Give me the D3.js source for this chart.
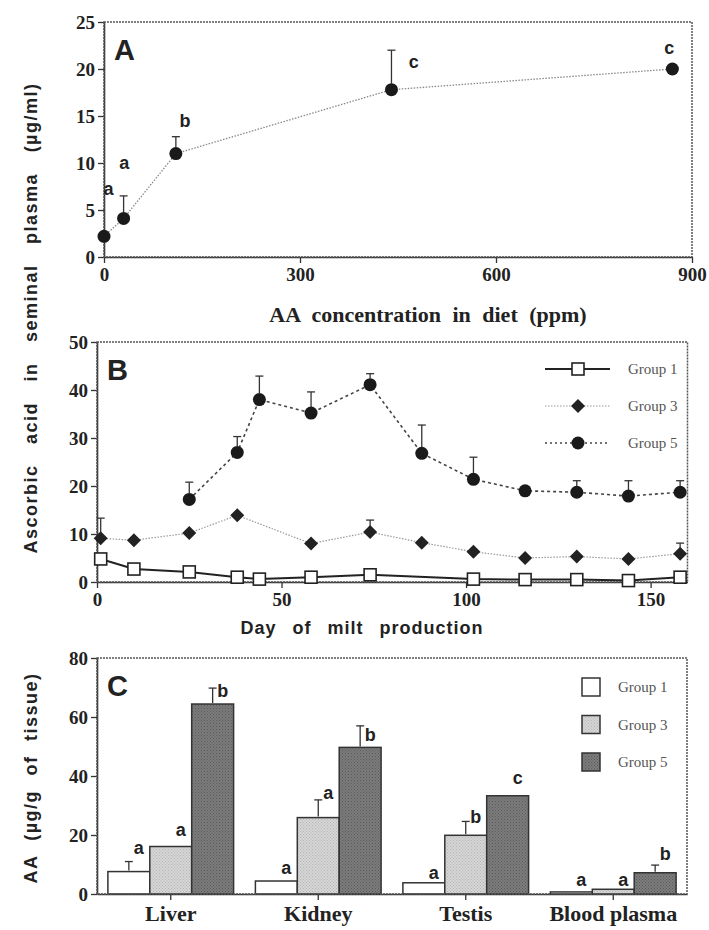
<!DOCTYPE html>
<html>
<head>
<meta charset="utf-8">
<script src="https://cdn.jsdelivr.net/npm/d3@7"></script>
<style>
body { margin: 0; background: #fff; }
svg { display: block; }
.tick text { fill: #222; }
.tick line { stroke: #333; stroke-width: 1.3; }
.domain { stroke: #333; stroke-width: 1.6; }
</style>
</head>
<body>
<svg id="fig" width="709" height="930"></svg>
<script>
// A - AA in seminal plasma vs diet
const dietPpm = [0, 30, 110, 440, 870];
const seminalAA = [2.2, 4.1, 11.0, 17.8, 20.0];
const seminalErr = [null, 6.5, 12.8, 22.0, null];
const seminalLetters = ["a", "a", "b", "c", "c"];
const seminalLetterX = [7, 31, 124, 474, 865];
const seminalLetterY = [7.3, 10.0, 14.5, 20.8, 22.3];
const ticksA_x = [0, 300, 600, 900];
const ticksA_y = [0, 5, 10, 15, 20, 25];

// B - AA during milt production
const daysG1 = [1, 10, 25, 38, 44, 58, 74, 102, 116, 130, 144, 158];
const aaG1 = [4.8, 2.7, 2.1, 1.0, 0.6, 1.0, 1.5, 0.6, 0.5, 0.5, 0.3, 1.0];
const daysG3 = [1, 10, 25, 38, 58, 74, 88, 102, 116, 130, 144, 158];
const aaG3 = [9.1, 8.7, 10.2, 13.9, 8.0, 10.4, 8.2, 6.3, 5.0, 5.3, 4.8, 5.9];
const errG3 = [13.3, null, null, null, null, 12.9, null, null, null, null, null, 8.1];
const daysG5 = [25, 38, 44, 58, 74, 88, 102, 116, 130, 144, 158];
const aaG5 = [17.2, 27.0, 38.0, 35.2, 41.1, 26.8, 21.4, 19.0, 18.7, 17.9, 18.7];
const errG5 = [20.8, 30.3, 42.9, 39.6, 43.4, 32.7, 26.0, null, 21.1, 21.1, 21.1];
const ticksB_x = [0, 50, 100, 150];
const ticksB_y = [0, 10, 20, 30, 40, 50];

// C - AA in tissues
const tissues = ["Liver", "Kidney", "Testis", "Blood plasma"];
const groups = ["Group 1", "Group 3", "Group 5"];
const tissueG1 = [7.6, 4.4, 3.8, 0.7];
const tissueG3 = [16.1, 25.9, 19.9, 1.6];
const tissueG5 = [64.4, 49.7, 33.3, 7.2];
const tissueErrG1 = [11.0, null, null, null];
const tissueErrG3 = [null, 31.9, 24.6, null];
const tissueErrG5 = [69.8, 57.0, null, 9.8];
const lettersG1 = ["a", "a", "a", "a"];
const lettersG3 = ["a", "a", "b", "a"];
const lettersG5 = ["b", "b", "c", "b"];
const letterYG1 = [15.8, 8.9, 7.2, 4.8];
const letterYG3 = [21.7, 34.2, 26.2, 4.8];
const letterYG5 = [68.9, 54.0, 39.3, 13.5];
const ticksC_y = [0, 20, 40, 60, 80];

const svg = d3.select("#fig");
const serif = '"Liberation Serif", "Times New Roman", serif';
const sans = '"Liberation Sans", Arial, Helvetica, sans-serif';

// halftone fills for bars
const defs = svg.append("defs");
function halftone(id, base, dot) {
    const p = defs.append("pattern").attr("id", id)
        .attr("width", 3).attr("height", 3).attr("patternUnits", "userSpaceOnUse");
    p.append("rect").attr("width", 3).attr("height", 3).attr("fill", base);
    p.append("rect").attr("width", 1).attr("height", 1).attr("fill", dot);
    p.append("rect").attr("x", 1.5).attr("y", 1.5).attr("width", 1).attr("height", 1).attr("fill", dot);
}
halftone("fillG3", "#d6d6d6", "#b4b4b4");
halftone("fillG5", "#7c7c7c", "#5a5a5a");
const barFill = ["#fff", "url(#fillG3)", "url(#fillG5)"];

// serif bold tick labels, like the printed figure
function styleAxis(g, size) {
    g.attr("font-family", serif).attr("font-weight", "bold").attr("font-size", size || 19);
}

function frame(x, y) {
    svg.append("rect")
        .attr("x", x.range()[0]).attr("y", y.range()[1])
        .attr("width", x.range()[1] - x.range()[0])
        .attr("height", y.range()[0] - y.range()[1])
        .attr("fill", "none").attr("stroke", "#555")
        .attr("stroke-width", 1.5).attr("stroke-dasharray", "2,1");
}

function panelLetter(txt, x, y) {
    svg.append("text").attr("x", x.range()[0] + 10).attr("y", y.range()[1] + 38)
        .attr("font-family", sans).attr("font-weight", "bold").attr("font-size", 29)
        .attr("fill", "#222").text(txt);
}

function sigLetter(txt, px, py) {
    svg.append("text").attr("x", px).attr("y", py).attr("dy", "0.35em")
        .attr("text-anchor", "middle")
        .attr("font-family", sans).attr("font-weight", "bold").attr("font-size", 18)
        .attr("fill", "#222").text(txt);
}

function errBar(px, yVal, yTop) {
    svg.append("line").attr("x1", px).attr("x2", px).attr("y1", yVal).attr("y2", yTop)
        .attr("stroke", "#333").attr("stroke-width", 1.3);
    svg.append("line").attr("x1", px - 4).attr("x2", px + 4).attr("y1", yTop).attr("y2", yTop)
        .attr("stroke", "#333").attr("stroke-width", 1.3);
}

function diamond(g, px, py, s) {
    g.append("path").attr("d", `M${px},${py - s}L${px + s},${py}L${px},${py + s}L${px - s},${py}Z`)
        .attr("fill", "#222");
}

//==== Panel A ====
const xA = d3.scaleLinear().domain([0, 900]).range([104, 692]);
const yA = d3.scaleLinear().domain([0, 25]).range([257, 22]);

svg.append("g").attr("transform", `translate(0,${yA(0)})`)
    .call(d3.axisBottom(xA).tickValues(ticksA_x).tickSize(6).tickSizeOuter(0).tickPadding(5))
    .call(styleAxis);
svg.append("g").attr("transform", `translate(${xA(0)},0)`)
    .call(d3.axisLeft(yA).tickValues(ticksA_y).tickSize(6).tickSizeOuter(0))
    .call(styleAxis);
frame(xA, yA);
panelLetter("A", xA, yA);

svg.append("path")
    .attr("d", d3.line().x((d, i) => xA(dietPpm[i])).y(d => yA(d))(seminalAA))
    .attr("fill", "none").attr("stroke", "#888").attr("stroke-width", 1.3)
    .attr("stroke-dasharray", "1.5,1.5");
seminalErr.forEach((e, i) => {
    if (e != null) errBar(xA(dietPpm[i]), yA(seminalAA[i]) - 6, yA(e));
});
svg.append("g").selectAll("circle").data(seminalAA).enter().append("circle")
    .attr("cx", (d, i) => xA(dietPpm[i])).attr("cy", d => yA(d)).attr("r", 6.5)
    .attr("fill", "#1a1a1a");
seminalLetters.forEach((l, i) => sigLetter(l, xA(seminalLetterX[i]), yA(seminalLetterY[i])));

svg.append("text").attr("x", 428).attr("y", 322)
    .attr("text-anchor", "middle").attr("font-family", serif).attr("font-weight", "bold")
    .attr("font-size", 22).attr("word-spacing", 6).attr("fill", "#222")
    .text("AA concentration  in diet (ppm)");

//==== Panel B ====
const xB = d3.scaleLinear().domain([0, 160]).range([97, 687.5]);
const yB = d3.scaleLinear().domain([0, 50]).range([582, 342]);

svg.append("g").attr("transform", `translate(0,${yB(0)})`)
    .call(d3.axisBottom(xB).tickValues(ticksB_x).tickSize(6).tickSizeOuter(0).tickPadding(5))
    .call(styleAxis);
svg.append("g").attr("transform", `translate(${xB(0)},0)`)
    .call(d3.axisLeft(yB).tickValues(ticksB_y).tickSize(6).tickSizeOuter(0))
    .call(styleAxis);
frame(xB, yB);
panelLetter("B", xB, yB);

const gB = svg.append("g");
// group 3
gB.append("path")
    .attr("d", d3.line().x((d, i) => xB(daysG3[i])).y(d => yB(d))(aaG3))
    .attr("fill", "none").attr("stroke", "#999").attr("stroke-width", 1.2)
    .attr("stroke-dasharray", "1.5,1.5");
// group 5
gB.append("path")
    .attr("d", d3.line().x((d, i) => xB(daysG5[i])).y(d => yB(d))(aaG5))
    .attr("fill", "none").attr("stroke", "#444").attr("stroke-width", 1.6)
    .attr("stroke-dasharray", "3,3");
// group 1
gB.append("path")
    .attr("d", d3.line().x((d, i) => xB(daysG1[i])).y(d => yB(d))(aaG1))
    .attr("fill", "none").attr("stroke", "#222").attr("stroke-width", 2);

errG5.forEach((e, i) => { if (e != null) errBar(xB(daysG5[i]), yB(aaG5[i]) - 6, yB(e)); });
errG3.forEach((e, i) => { if (e != null) errBar(xB(daysG3[i]), yB(aaG3[i]) - 6, yB(e)); });

aaG3.forEach((d, i) => diamond(gB, xB(daysG3[i]), yB(d), 7));
gB.selectAll(".g5").data(aaG5).enter().append("circle")
    .attr("cx", (d, i) => xB(daysG5[i])).attr("cy", d => yB(d)).attr("r", 6.5)
    .attr("fill", "#1a1a1a");
gB.selectAll(".g1").data(aaG1).enter().append("rect")
    .attr("x", (d, i) => xB(daysG1[i]) - 6).attr("y", d => yB(d) - 6)
    .attr("width", 12).attr("height", 12)
    .attr("fill", "#fff").attr("stroke", "#222").attr("stroke-width", 1.6);

// legend B
const legB = [
    { dash: null, stroke: "#222", w: 2 },
    { dash: "1.5,1.5", stroke: "#999", w: 1.2 },
    { dash: "2,3", stroke: "#444", w: 1.6 }
];
legB.forEach((s, i) => {
    const ly = 369 + i * 37;
    const ln = svg.append("line").attr("x1", 545).attr("x2", 610).attr("y1", ly).attr("y2", ly)
        .attr("stroke", s.stroke).attr("stroke-width", s.w);
    if (s.dash) ln.attr("stroke-dasharray", s.dash);
    if (i === 0) svg.append("rect").attr("x", 572).attr("y", ly - 6).attr("width", 12).attr("height", 12)
        .attr("fill", "#fff").attr("stroke", "#222").attr("stroke-width", 1.6);
    if (i === 1) diamond(svg, 578, ly, 7);
    if (i === 2) svg.append("circle").attr("cx", 578).attr("cy", ly).attr("r", 6.5).attr("fill", "#1a1a1a");
    svg.append("text").attr("x", 628).attr("y", ly).attr("dy", "0.35em")
        .attr("font-family", serif).attr("font-size", 15).attr("fill", "#555").text(groups[i]);
});

svg.append("text").attr("x", 362).attr("y", 628).attr("dy", "0.35em")
    .attr("text-anchor", "middle").attr("font-family", sans).attr("font-weight", "bold")
    .attr("font-size", 18).attr("letter-spacing", 1).attr("word-spacing", 10).attr("fill", "#222")
    .text("Day of milt production");

svg.append("text").attr("transform", "translate(31,318) rotate(-90)").attr("dy", "0.35em")
    .attr("text-anchor", "middle").attr("font-family", sans).attr("font-weight", "bold")
    .attr("font-size", 18).attr("letter-spacing", 1.5).attr("word-spacing", 14).attr("fill", "#222")
    .text("Ascorbic acid in seminal plasma (µg/ml)");

//==== Panel C ====
const xC = d3.scaleBand().domain(tissues).range([97, 687]);
const xG = d3.scaleBand().domain(groups).range([0, xC.bandwidth()]).paddingOuter(0.26);
const yC = d3.scaleLinear().domain([0, 80]).range([894, 658]);

const tissueVals = [tissueG1, tissueG3, tissueG5];
const tissueErrs = [tissueErrG1, tissueErrG3, tissueErrG5];
const tissueLetters = [lettersG1, lettersG3, lettersG5];
const tissueLetterY = [letterYG1, letterYG3, letterYG5];

svg.append("g").attr("transform", `translate(0,${yC(0)})`)
    .call(d3.axisBottom(xC).tickSize(6).tickSizeOuter(0).tickPadding(5))
    .call(styleAxis, 22);
svg.append("g").attr("transform", `translate(${xC.range()[0]},0)`)
    .call(d3.axisLeft(yC).tickValues(ticksC_y).tickSize(6).tickSizeOuter(0))
    .call(styleAxis);

groups.forEach((g, gi) => {
    svg.append("g").selectAll("rect").data(tissueVals[gi]).enter().append("rect")
        .attr("x", (d, i) => xC(tissues[i]) + xG(g))
        .attr("y", d => yC(d))
        .attr("width", xG.bandwidth())
        .attr("height", d => yC(0) - yC(d))
        .attr("fill", barFill[gi]).attr("stroke", "#333").attr("stroke-width", 1.5);
});
groups.forEach((g, gi) => {
    tissues.forEach((t, i) => {
        const cx = xC(t) + xG(g) + xG.bandwidth() / 2;
        const e = tissueErrs[gi][i];
        if (e != null) errBar(cx, yC(tissueVals[gi][i]) - 1, yC(e));
        sigLetter(tissueLetters[gi][i], cx + 10, yC(tissueLetterY[gi][i]));
    });
});
frame(xC, yC);
panelLetter("C", xC, yC);

// legend C
groups.forEach((g, i) => {
    const ly = 687 + i * 37.5;
    svg.append("rect").attr("x", 582).attr("y", ly - 9).attr("width", 18).attr("height", 18)
        .attr("fill", barFill[i]).attr("stroke", "#333").attr("stroke-width", 1.5);
    svg.append("text").attr("x", 618).attr("y", ly).attr("dy", "0.35em")
        .attr("font-family", serif).attr("font-size", 15).attr("fill", "#555").text(g);
});

svg.append("text").attr("transform", "translate(31,778) rotate(-90)").attr("dy", "0.35em")
    .attr("text-anchor", "middle").attr("font-family", sans).attr("font-weight", "bold")
    .attr("font-size", 18).attr("letter-spacing", 1.5).attr("word-spacing", 8).attr("fill", "#222")
    .text("AA (µg/g of tissue)");
</script>
</body>
</html>
